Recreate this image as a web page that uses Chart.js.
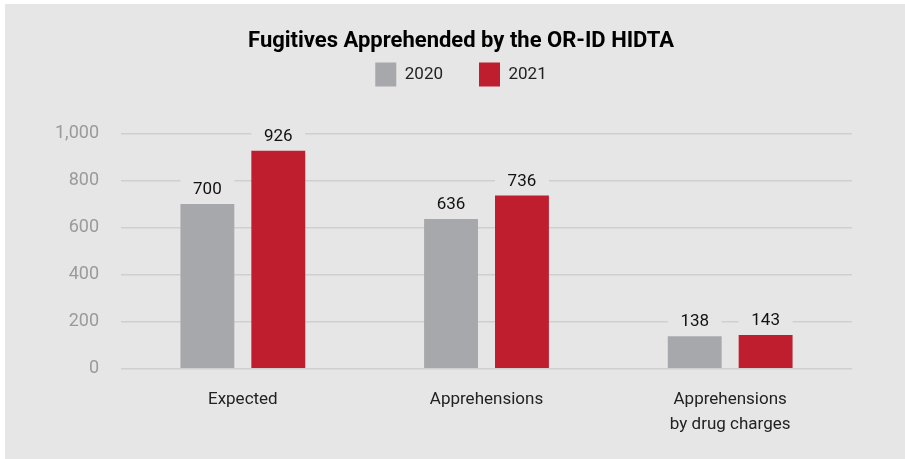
<!DOCTYPE html>
<html>
<head>
<meta charset="utf-8">
<script src="https://cdn.jsdelivr.net/npm/chart.js@4/dist/chart.umd.min.js"></script>
<style>
  html, body { margin: 0; padding: 0; background: #ffffff; }
  #wrap { position: absolute; left: 5px; top: 4px; width: 900px; height: 455px; background: #e6e6e6; }
  canvas { display: block; }
</style>
</head>
<body>
<div id="wrap"><canvas id="c" width="900" height="455"></canvas></div>
<script>
const categories = ['Expected', 'Apprehensions', ['Apprehensions', 'by drug charges']];
const seriesNames = ['2020', '2021'];
const values2020 = [700, 636, 138];
const values2021 = [926, 736, 143];
const yTicks = [0, 200, 400, 600, 800, 1000];

const FONT = "'Roboto', 'Noto Sans', sans-serif";
const BG = '#e6e6e6';

const valueLabels = {
  id: 'valueLabels',
  afterDatasetsDraw(chart) {
    const ctx = chart.ctx;
    ctx.save();
    chart.data.datasets.forEach((ds, di) => {
      const meta = chart.getDatasetMeta(di);
      meta.data.forEach((bar, i) => {
        const w = bar.width;
        ctx.fillStyle = BG;
        ctx.fillRect(bar.x - w / 2, bar.y - 28, w, 27);
        ctx.fillStyle = '#111';
        ctx.font = '17px ' + FONT;
        ctx.textAlign = 'center';
        ctx.textBaseline = 'middle';
        ctx.fillText(String(ds.data[i]), bar.x, bar.y - 14);
      });
    });
    ctx.restore();
  }
};

new Chart(document.getElementById('c'), {
  type: 'bar',
  data: {
    labels: categories,
    datasets: [
      { label: seriesNames[0], data: values2020, backgroundColor: '#a7a8ab', borderWidth: 0,
        categoryPercentage: 0.582, barPercentage: 0.76 },
      { label: seriesNames[1], data: values2021, backgroundColor: '#be1e2d', borderWidth: 0,
        categoryPercentage: 0.582, barPercentage: 0.76 }
    ]
  },
  options: {
    responsive: false,
    animation: false,
    layout: { padding: { left: 12, right: 0, top: 0, bottom: 11 } },
    plugins: {
      title: {
        display: true,
        text: 'Fugitives Apprehended by the OR-ID HIDTA',
        color: '#000',
        font: { family: FONT, size: 22, weight: 'bold', lineHeight: 1.2 },
        padding: { top: 24, bottom: -28 }
      },
      subtitle: {
        display: true,
        text: '',
        weight: 500,
        font: { size: 1, lineHeight: 1 },
        padding: { top: 0, bottom: 36 }
      },
      legend: {
        display: true,
        position: 'top',
        labels: {
          color: '#222',
          font: { family: FONT, size: 17 },
          boxWidth: 21,
          boxHeight: 24,
          padding: 36
        }
      },
      tooltip: { enabled: false }
    },
    scales: {
      x: {
        grid: { display: false },
        border: { display: false },
        ticks: {
          color: '#222',
          font: { family: FONT, size: 17, lineHeight: 1.45 },
          padding: 11,
          maxRotation: 0
        }
      },
      y: {
        min: 0,
        max: 1000,
        afterFit(s) { s.width = 104; },
        afterBuildTicks(s) { s.ticks = yTicks.map(v => ({ value: v })); },
        grid: { color: '#cfcfcf', lineWidth: 1.5, drawTicks: false },
        border: { display: false },
        ticks: {
          color: '#9a9a9a',
          font: { family: FONT, size: 18 },
          padding: 22,
          callback: v => v.toLocaleString('en-US')
        }
      },
      yr: {
        type: 'linear',
        position: 'right',
        display: true,
        afterFit(s) { s.width = 53; },
        grid: { display: false },
        border: { display: false },
        ticks: { display: false }
      }
    }
  },
  plugins: [valueLabels]
});
</script>
</body>
</html>
